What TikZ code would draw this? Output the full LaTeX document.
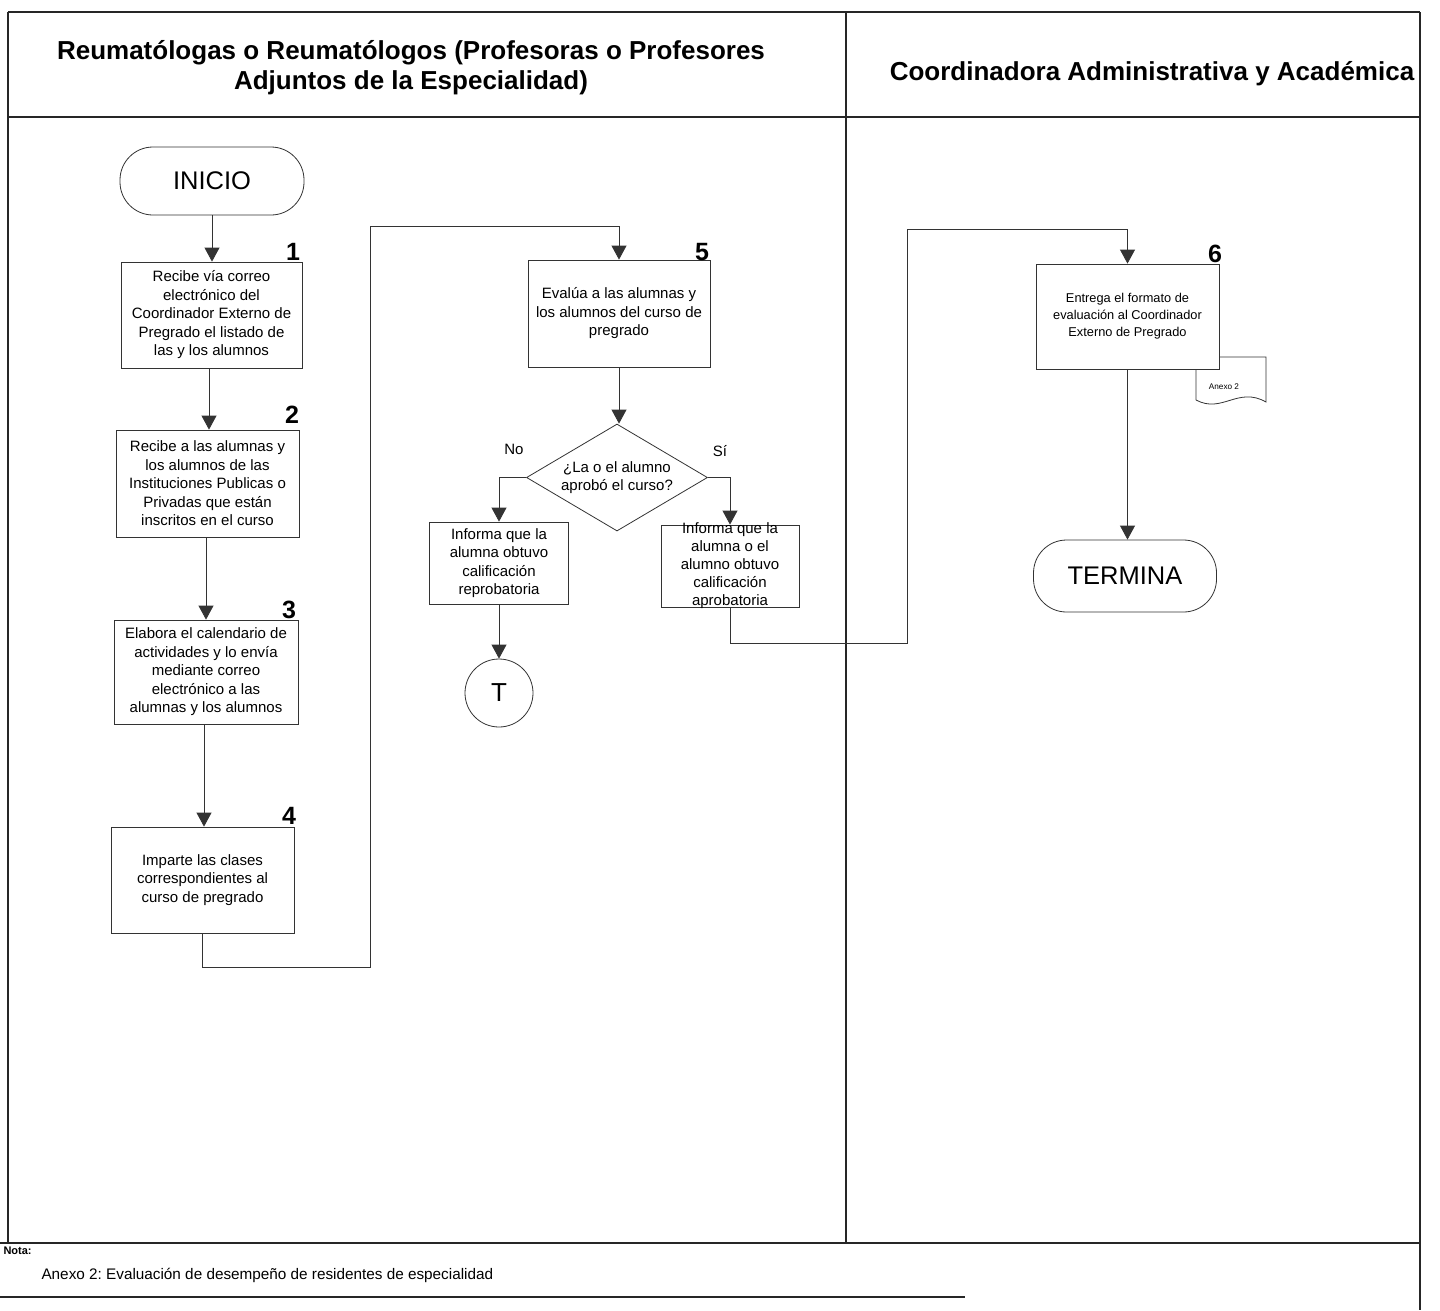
\documentclass[tikz,border=0pt]{standalone}
\usepackage{fontspec}
\setmainfont{Liberation Sans}
\usetikzlibrary{shapes.geometric,arrows.meta}
\frenchspacing
\begin{document}
\begin{tikzpicture}[x=1pt,y=-1pt,
  lanefr/.style={line width=1.6pt,black!85},
  proc/.style={draw=black!80,line width=0.8pt,fill=white,align=center,inner sep=2pt,font=\fontsize{15}{18.5}\selectfont},
  termnode/.style={draw=black!80,line width=0.8pt,fill=white,rounded corners=33pt,font=\fontsize{25.5}{30}\selectfont},
  num/.style={font=\bfseries\fontsize{25}{25}\selectfont},
  hdr/.style={align=center,font=\bfseries\fontsize{26}{30}\selectfont},
  lbl/.style={font=\fontsize{15}{18}\selectfont},
  arr/.style={-{Triangle[length=14pt,width=15pt]},line width=0.8pt,black!80},
  conn/.style={line width=0.8pt,black!80}
]
\useasboundingbox (0,0) rectangle (1440,1310);
% frame
\draw[lanefr] (8,12) -- (1420,12);
\draw[lanefr] (8,117) -- (1420,117);
\draw[lanefr] (8,12) -- (8,1243);
\draw[lanefr] (846,12) -- (846,1243);
\draw[lanefr] (1420,12) -- (1420,1310);
\draw[lanefr] (0,1243) -- (1420,1243);
\draw[lanefr] (0,1297) -- (965,1297);
% headers
\node[hdr] (h1) at (411,68) {Reumatólogas o Reumatólogos (Profesoras o Profesores\\Adjuntos de la Especialidad)};
\node[hdr] (h2) at (1152,74) {Coordinadora Administrativa y Académica};
% nodes
\node[termnode,minimum width=184pt,minimum height=68pt] (ini) at (212,181) {INICIO};
\node[proc,minimum width=181pt,minimum height=106pt] (b1) at (211.5,315) {Recibe vía correo\\electrónico del\\Coordinador Externo de\\Pregrado el listado de\\las y los alumnos};
\node[num] (n1) at (293,252) {1};
\node[proc,minimum width=183pt,minimum height=107pt] (b2) at (207.5,483.5) {Recibe a las alumnas y\\los alumnos de las\\Instituciones Publicas o\\Privadas que están\\inscritos en el curso};
\node[num] (n2) at (292,415) {2};
\node[proc,minimum width=184pt,minimum height=104pt] (b3) at (206,672) {Elabora el calendario de\\actividades y lo envía\\mediante correo\\electrónico a las\\alumnas y los alumnos};
\node[num] (n3) at (289,610) {3};
\node[proc,minimum width=183pt,minimum height=106pt] (b4) at (202.5,880) {Imparte las clases\\correspondientes al\\curso de pregrado};
\node[num] (n4) at (289,816) {4};
\node[proc,minimum width=182pt,minimum height=107pt] (b5) at (619,313.5) {Evalúa a las alumnas y\\los alumnos del curso de\\pregrado};
\node[num] (n5) at (702,252) {5};
\node[diamond,draw=black!80,line width=0.8pt,fill=white,aspect=1.69,minimum width=181pt,minimum height=107pt,inner sep=0pt,align=center,font=\fontsize{15}{18}\selectfont] (dia) at (617,477.5) {¿La o el alumno\\aprobó el curso?};
\node[lbl] (lno) at (514,449) {No};
\node[lbl] (lsi) at (720,451) {Sí};
\node[proc,minimum width=139pt,minimum height=82pt] (no) at (499,563) {Informa que la\\alumna obtuvo\\calificación\\reprobatoria};
\node[proc,minimum width=138pt,minimum height=82pt,label={[align=center,font=\fontsize{15}{18}\selectfont]center:Informa que la\\alumna o el\\alumno obtuvo\\calificación\\aprobatoria}] (si) at (730,566) {};
\node[circle,draw=black!80,line width=0.8pt,minimum size=68pt,font=\fontsize{26}{26}\selectfont] (t) at (499,693) {T};
% coordinadora lane
\draw[conn,fill=white] (1196,400) -- (1196,357) -- (1266,357) -- (1266,402) .. controls (1238,386) and (1222,414) .. (1196,400);
\node[font=\fontsize{8.2}{9}\selectfont] (anx) at (1224,387) {Anexo 2};
\node[proc,minimum width=183pt,minimum height=105pt,font=\fontsize{12.8}{17}\selectfont] (b6) at (1127.5,316.5) {Entrega el formato de\\evaluación al Coordinador\\Externo de Pregrado};
\node[num] (n6) at (1215,254) {6};
\node[termnode,minimum width=183pt,minimum height=72pt] (ter) at (1125,576) {TERMINA};
% connectors
\coordinate (k1) at (370,967);
\coordinate (k2) at (370,226);
\coordinate (k3) at (907,643);
\coordinate (k4) at (907,229);
\draw[arr] (ini.south) -- (ini.south |- b1.north);
\draw[arr] (b1.south -| 209,0) -- (209,0 |- b2.north);
\draw[arr] (b2.south -| 206,0) -- (206,0 |- b3.north);
\draw[arr] (b3.south -| 204,0) -- (204,0 |- b4.north);
\draw[arr] (b4.south) |- (k1) -- (k2) -| (b5.north);
\draw[arr] (b5.south) -- (b5.south |- dia.north);
\draw[arr] (dia.west) -| (no.north);
\draw[arr] (dia.east) -| (si.north);
\draw[arr] (no.south) -- (t.north);
\draw[arr] (si.south) |- (k3) -- (k4) -| (b6.north);
\draw[arr] (b6.south) -- (b6.south |- ter.north);
% nota
\node[anchor=west,font=\bfseries\fontsize{11}{12}\selectfont] (nota) at (0,1251) {Nota:};
\node[anchor=west,font=\fontsize{15.3}{17}\selectfont] (notatxt) at (38,1275) {Anexo 2: Evaluación de desempeño de residentes de especialidad};
\end{tikzpicture}
\end{document}
